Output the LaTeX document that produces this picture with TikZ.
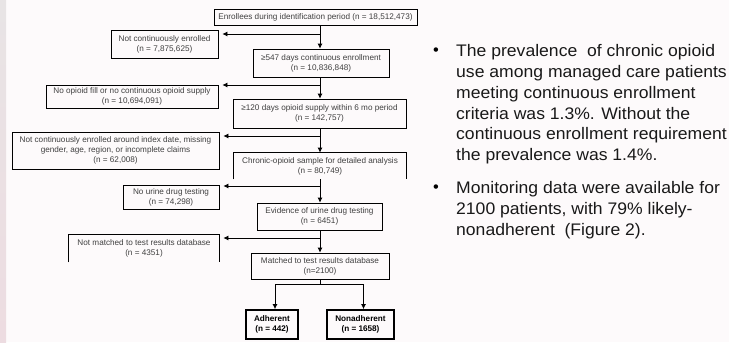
\documentclass[tikz,border=0pt]{standalone}
\usepackage{fontspec}
\setmainfont{Liberation Sans}
\newfontfamily\slidefont[FakeStretch=1.05]{Liberation Sans}
\usetikzlibrary{arrows.meta}

\definecolor{paper}{RGB}{253,250,251}
\definecolor{edgetop}{RGB}{232,228,229}
\definecolor{edgebot}{RGB}{237,220,225}
\definecolor{boxtext}{RGB}{64,64,64}

\begin{document}
\begin{tikzpicture}[x=1bp, y=-1bp,
    box/.style={draw, line width=0.8bp, align=center, inner sep=0pt, text=boxtext,
                font=\fontsize{8.2}{10}\selectfont},
    result/.style={box, line width=1.8bp, text=black, font=\fontsize{8.2}{10}\selectfont\bfseries},
    flow/.style={-{Latex[length=5bp,width=5bp]}, line width=0.8bp},
    para/.style={anchor=base west, align=left, inner sep=0pt, text=black!90,
                 font=\slidefont\fontsize{16.8}{20.8}\selectfont},
    dot/.style={inner sep=0pt, font=\fontsize{16.5}{20.8}\selectfont}]
  \useasboundingbox (0,0) rectangle (729,342);
  \fill[paper] (0,0) rectangle (729,342);
  \shade[top color=edgetop, bottom color=edgebot] (0,0) rectangle (6,342);

  \node[box, minimum width=203bp, minimum height=16bp] (enroll) at (315.5,17)
    {Enrollees during identification period (n = 18,512,473)};
  \node[box, minimum width=107bp, minimum height=28bp] (notcont) at (164.5,44)
    {Not continuously enrolled\\(n = 7,875,625)};
  \node[box, minimum width=136bp, minimum height=28bp] (days547) at (321,63)
    {≥547 days continuous enrollment\\(n = 10,836,848)};
  \node[box, minimum width=172bp, minimum height=23bp] (noopioid) at (132,96.5)
    {No opioid fill or no continuous opioid supply\\(n = 10,694,091)};
  \node[box, minimum width=173bp, minimum height=29bp] (days120) at (319.5,113.5)
    {≥120 days opioid supply within 6 mo period\\(n = 142,757)};
  \node[box, minimum width=207bp, minimum height=37bp] (notindex) at (115.5,150.5)
    {Not continuously enrolled around index date, missing\\gender, age, region, or incomplete claims\\(n = 62,008)};
  \node[box, draw=none, minimum width=172bp, minimum height=26bp] (chronic) at (320,166)
    {Chronic-opioid sample for detailed analysis\\(n = 80,749)};
  \draw[line width=0.8bp] (chronic.south west) -- (chronic.north west) -- (chronic.north east) -- (chronic.south east);
  \node[box, minimum width=96bp, minimum height=24bp] (nourine) at (171,197)
    {No urine drug testing\\(n = 74,298)};
  \node[box, minimum width=125bp, minimum height=27bp] (evidence) at (319.5,216.5)
    {Evidence of urine drug testing\\(n = 6451)};
  \node[box, draw=none, minimum width=150bp, minimum height=27bp] (notmatched) at (144,248.5)
    {Not matched to test results database\\(n = 4351)};
  \draw[line width=0.8bp] (notmatched.south west) -- (notmatched.north west) -- (notmatched.north east) -- (notmatched.south east);
  \node[box, minimum width=138bp, minimum height=26bp] (matched) at (320,266)
    {Matched to test results database\\(n=2100)};
  \node[result, minimum width=52bp, minimum height=29bp] (adherent) at (272,324.5)
    {Adherent\\(n = 442)};
  \node[result, minimum width=67bp, minimum height=29bp] (nonadherent) at (360.5,324.5)
    {Nonadherent\\(n = 1658)};

  \coordinate (spine) at (320,0);
  \coordinate (b1) at (320,34);
  \coordinate (b2) at (320,85);
  \coordinate (b3) at (320,136);
  \coordinate (b4) at (320,186);
  \coordinate (b5) at (320,238);
  \coordinate (split) at (320,284);
  \draw[flow] (enroll.south -| spine) -- (days547.north -| spine);
  \draw[flow] (days547.south -| spine) -- (days120.north -| spine);
  \draw[flow] (days120.south -| spine) -- (chronic.north -| spine);
  \draw[flow] (chronic.south -| spine) -- (evidence.north -| spine);
  \draw[flow] (evidence.south -| spine) -- (matched.north -| spine);
  \draw[flow, shorten >=4bp] (b1) -- (b1 -| notcont.east);
  \draw[flow, shorten >=4bp] (b2) -- (b2 -| noopioid.east);
  \draw[flow, shorten >=4bp] (b3) -- (b3 -| notindex.east);
  \draw[flow, shorten >=4bp] (b4) -- (b4 -| nourine.east);
  \draw[flow, shorten >=4bp] (b5) -- (b5 -| notmatched.east);
  \draw[line width=0.8bp] (matched.south -| spine) -- (split);
  \draw[flow] (split) -| ([xshift=3bp]adherent.north);
  \draw[flow] (split) -| ([xshift=3bp]nonadherent.north);

  \node[dot] (dot1) at (436,52) {•};
  \node[para] (para1) at (456,160.5)
    {The prevalence\ \ of chronic opioid\\use among managed care patients\\meeting continuous enrollment\\criteria was 1.3\%. Without the\\continuous enrollment requirement\\the prevalence was 1.4\%.};
  \node[dot] (dot2) at (436,189) {•};
  \node[para] (para2) at (456,235.1)
    {Monitoring data were available for\\2100 patients, with 79\% likely-\\nonadherent\ \ (Figure 2).};
\end{tikzpicture}
\end{document}
